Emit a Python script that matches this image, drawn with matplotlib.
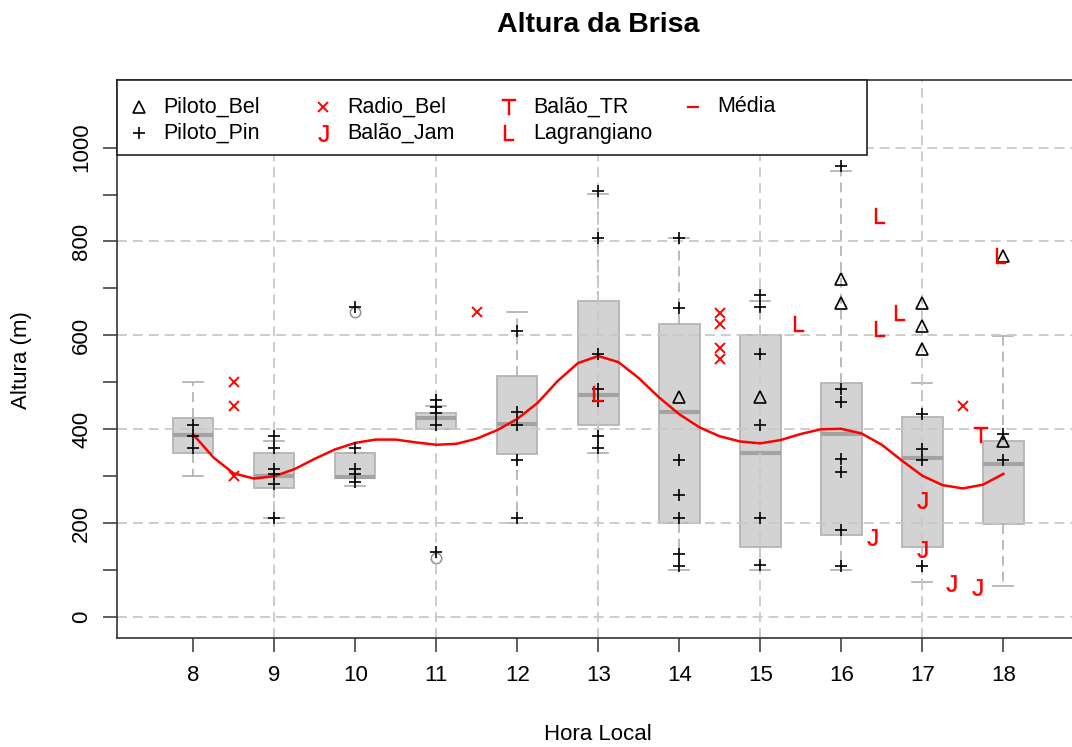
import matplotlib
matplotlib.use("Agg")
import matplotlib.pyplot as plt
import numpy as np
from matplotlib.patches import Rectangle
from matplotlib.lines import Line2D

plt.rcParams['font.family'] = ['Liberation Sans', 'DejaVu Sans']
plt.rcParams['mathtext.fontset'] = 'custom'
plt.rcParams['mathtext.rm'] = 'Liberation Sans'

# horas e estatisticas dos boxplots (minimo, q1, mediana, q3, maximo)
horas = [8, 9, 10, 11, 12, 13, 14, 15, 16, 17, 18]
box_min = [300, 210, 280, 400, 201, 350, 100, 101, 100, 75, 67]
box_q1 = [350, 275, 296, 400, 348, 410, 200, 150, 174, 150, 199]
box_med = [387, 300, 299, 425, 412, 474, 437, 350, 389, 338, 325]
box_q3 = [425, 350, 350, 435, 513, 674, 625, 600, 499, 426, 374]
box_max = [500, 375, 350, 449, 650, 901, 808, 674, 951, 499, 599]
box_out = [[], [], [650], [125], [], [], [], [], [], [], []]

# Piloto_Pin (+)
pin_horas = [8, 8, 8, 9, 9, 9, 9, 9, 9, 10, 10, 10, 10, 10,
             11, 11, 11, 11, 11, 12, 12, 12, 12, 12,
             13, 13, 13, 13, 13, 13, 13, 14, 14, 14, 14, 14, 14, 14,
             15, 15, 15, 15, 15, 15, 16, 16, 16, 16, 16, 16, 16,
             17, 17, 17, 17, 18, 18]
pin_alt = [410, 385, 360, 385, 361, 316, 305, 284, 210, 660, 361, 316, 305, 288,
           462, 447, 435, 409, 139, 609, 437, 409, 335, 210,
           908, 808, 560, 486, 460, 385, 360, 808, 659, 334, 260, 210, 135, 108,
           687, 660, 560, 409, 210, 111, 960, 486, 458, 336, 309, 185, 109,
           433, 359, 334, 108, 389, 334]

# Piloto_Bel (triangulo)
bel_horas = [14, 15, 16, 16, 17, 17, 17, 18, 18]
bel_alt = [469, 469, 720, 669, 669, 619, 570, 770, 375]

# Radio_Bel (x)
radio_horas = [8.5, 8.5, 8.5, 11.5, 14.5, 14.5, 14.5, 14.5, 17.5]
radio_alt = [500, 450, 300, 650, 648, 625, 574, 549, 450]

# Balao_Jam (J), Balao_TR (T), Lagrangiano (L)
jam_horas = [16.38, 17, 17, 17.36, 17.67]
jam_alt = [171, 249, 146, 72, 65]
tr_horas = [17.72]
tr_alt = [388]
lag_horas = [13, 15.48, 16.48, 16.48, 16.73, 17.97]
lag_alt = [476, 625, 855, 614, 647, 770]

# curva da media (spline)
media_horas = np.arange(8, 18.01, 0.25)
media_alt = [389, 340, 306, 295, 300, 315, 337, 357, 371, 378, 378, 372, 367,
             369, 380, 398, 422, 456, 503, 541, 556, 543, 509, 468, 432, 404,
             385, 374, 370, 377, 390, 400, 401, 391, 367, 333, 301, 281, 274,
             282, 305]

W, H = 1072, 747
fig = plt.figure(figsize=(W / 100, H / 100), dpi=100)
ax = fig.add_axes([117 / W, (H - 637.7) / H, (1079.5 - 117) / W, (637.7 - 80) / H])

stats = []
for i in range(len(horas)):
    stats.append({'whislo': box_min[i], 'q1': box_q1[i], 'med': box_med[i],
                  'q3': box_q3[i], 'whishi': box_max[i], 'fliers': box_out[i]})

cinza = '#b4b4b4'
ax.bxp(stats, positions=horas, widths=0.5, patch_artist=True, capwidths=0.25,
       boxprops=dict(facecolor='#d3d3d3', edgecolor=cinza, linewidth=1.3),
       medianprops=dict(color='#a3a3a3', linewidth=3),
       whiskerprops=dict(color=cinza, linewidth=1.3, linestyle=(0, (5.5, 3.3))),
       capprops=dict(color=cinza, linewidth=1.3),
       flierprops=dict(marker='o', markerfacecolor='none', markeredgecolor='#999999',
                       markersize=7.5, markeredgewidth=1.2),
       zorder=1)

# grade tracejada por cima das caixas
grade = dict(color='#c8c8c8', linewidth=1.3, linestyle=(0, (5.5, 3.3)), zorder=2)
for h in [9, 11, 13, 15, 17]:
    ax.axvline(h, **grade)
for v in range(0, 1001, 200):
    ax.axhline(v, **grade)

ax.plot(media_horas, media_alt, color='red', linewidth=1.8, zorder=3,
        solid_joinstyle='round')

tri = dict(marker='^', ms=8.5, mfc='none', mec='black', mew=1.2)
mais = dict(marker='+', ms=8.5, color='black', mew=1.2)
xis = dict(marker='x', ms=6.5, color='red', mew=1.4)
letra = dict(ms=12, color='red', mew=0.3)

ax.plot(pin_horas, pin_alt, ls='none', zorder=4, **mais)
ax.plot(bel_horas, bel_alt, ls='none', zorder=4, **tri)
ax.plot(radio_horas, radio_alt, ls='none', zorder=4, **xis)
ax.plot(jam_horas, jam_alt, ls='none', marker=r'$\mathrm{J}$', zorder=4, **letra)
ax.plot(tr_horas, tr_alt, ls='none', marker=r'$\mathrm{T}$', zorder=4, **letra)
ax.plot(lag_horas, lag_alt, ls='none', marker=r'$\mathrm{L}$', zorder=4, **letra)

ax.set_xlim(7.06, 18.94)
ax.set_ylim(-44, 1144)
ax.set_xticks(horas)
ax.set_yticks(range(0, 1001, 200))
ax.set_yticks(range(100, 1000, 200), minor=True)
ax.tick_params(axis='both', which='both', length=10, width=1.1, color='#333333',
               labelsize=16)
ax.tick_params(axis='x', pad=10)
ax.tick_params(axis='y', pad=8)
for lbl in ax.get_yticklabels():
    lbl.set_rotation(90)
    lbl.set_va('center')
for s in ax.spines.values():
    s.set_linewidth(1.2)
    s.set_color('#333333')

fig.text(598 / W, 1 - 25 / H, 'Altura da Brisa', ha='center', va='center',
         fontsize=20.5, fontweight='bold')
fig.text(598 / W, 1 - 735 / H, 'Hora Local', ha='center', va='center', fontsize=16)
fig.text(22 / W, 1 - 360 / H, 'Altura (m)', ha='center', va='center',
         fontsize=16, rotation=90)

# legenda desenhada a mao, 4 colunas
def fpos(x, y):
    return x / W, 1 - y / H

fig.add_artist(Rectangle(fpos(117, 155), 750 / W, 75 / H, transform=fig.transFigure,
                         facecolor='white', edgecolor='#222222', linewidth=1.2, zorder=5))
itens = [
    (139, 107, tri, 'Piloto_Bel'),
    (139, 133, mais, 'Piloto_Pin'),
    (323, 107, xis, 'Radio_Bel'),
    (323, 133, dict(marker=r'$\mathrm{J}$', **letra), 'Balão_Jam'),
    (509, 107, dict(marker=r'$\mathrm{T}$', **letra), 'Balão_TR'),
    (509, 133, dict(marker=r'$\mathrm{L}$', **letra), 'Lagrangiano'),
]
for x, y, estilo, nome in itens:
    fx, fy = fpos(x, y)
    fig.add_artist(Line2D([fx], [fy], ls='none', transform=fig.transFigure, zorder=6, **estilo))
    fig.text(fx + 24 / W, fy, nome, ha='left', va='center', fontsize=15.5, zorder=6)
fx0, fy0 = fpos(688, 107)
fx1, _ = fpos(698, 107)
fig.add_artist(Line2D([fx0, fx1], [fy0, fy0], color='red', linewidth=1.6,
                      transform=fig.transFigure, zorder=6))
fig.text(fpos(717, 107)[0], fy0, 'Média', ha='left', va='center', fontsize=15.5, zorder=6)

fig.savefig('out.png', dpi=100)
